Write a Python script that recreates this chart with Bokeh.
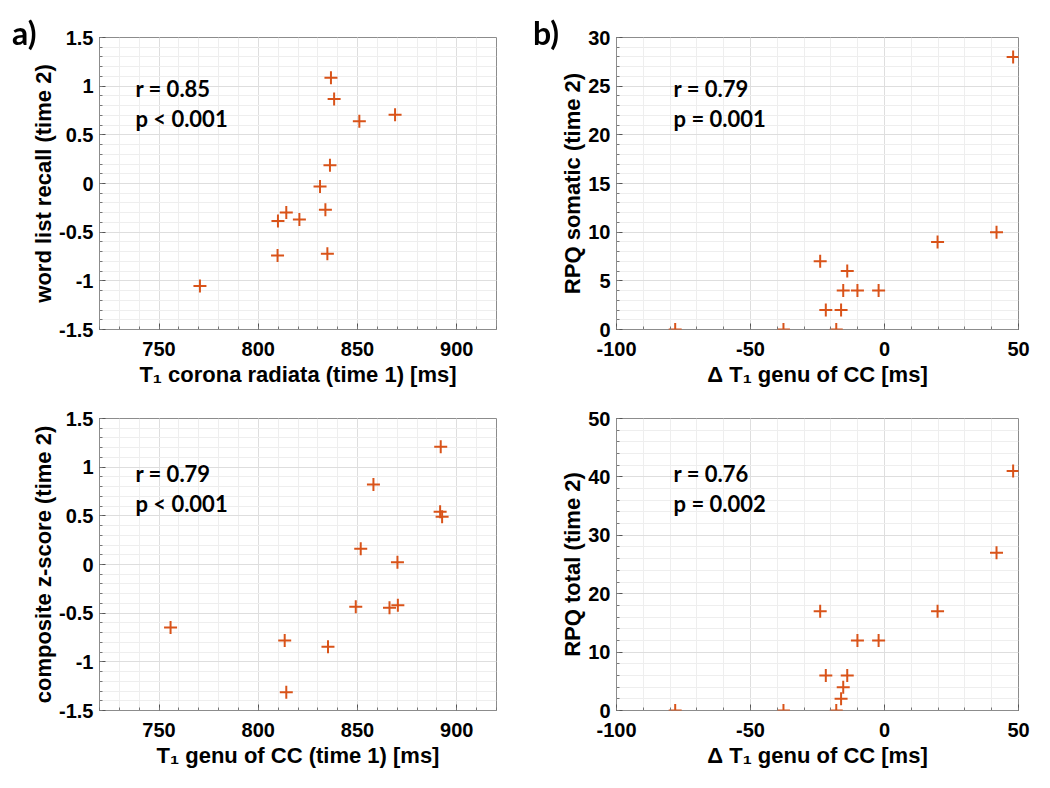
from bokeh.plotting import figure
from bokeh.layouts import gridplot, column
from bokeh.models import FixedTicker, Label, Range1d, Div
from bokeh.embed import file_html
from bokeh.resources import INLINE

# ---------------- data ----------------
t1_corona_time1 = [836.6, 838.2, 850.9, 868.9, 836.1, 831.1, 833.8, 814.1, 809.9, 820.7, 809.7, 834.8, 770.6]
word_list_recall = [1.087, 0.868, 0.639, 0.707, 0.188, -0.031, -0.270, -0.297, -0.386, -0.369, -0.741, -0.721, -1.052]

delta_t1_genu = [48.0, 41.8, 19.8, -24.0, -13.9, -15.4, -10.1, -2.2, -21.9, -16.2, -18.0, -37.7, -78.1]
rpq_somatic = [28, 10, 9, 7, 6, 4, 4, 4, 2, 2, 0, 0, 0]
rpq_total = [41, 27, 17, 17, 6, 4, 12, 12, 6, 2, 0, 0, 0]

t1_genu_time1 = [891.9, 858.0, 891.6, 892.6, 851.6, 870.1, 849.1, 866.1, 870.3, 755.8, 813.3, 835.1, 814.1]
composite_z = [1.209, 0.822, 0.541, 0.490, 0.161, 0.024, -0.435, -0.445, -0.418, -0.647, -0.781, -0.846, -1.312]

# ticks / labels
xt_ms = [750, 800, 850, 900]
xt_ms_labels = ["750", "800", "850", "900"]
xt_delta = [-100, -50, 0, 50]
xt_delta_labels = ["-100", "-50", "0", "50"]
yt_z = [-1.5, -1, -0.5, 0, 0.5, 1, 1.5]
yt_z_labels = ["-1.5", "-1", "-0.5", "0", "0.5", "1", "1.5"]
yt_som = [0, 5, 10, 15, 20, 25, 30]
yt_som_labels = ["0", "5", "10", "15", "20", "25", "30"]
yt_tot = [0, 10, 20, 30, 40, 50]
yt_tot_labels = ["0", "10", "20", "30", "40", "50"]

stats = [("r = 0.85", "p < 0.001"), ("r = 0.79", "p = 0.001"),
         ("r = 0.79", "p < 0.001"), ("r = 0.76", "p = 0.002")]
panel_letters = ["a)", "b)"]

MARK = "#D95319"
AX_FONT = "Liberation Sans"
TXT_FONT = "Lato"


def frange(a, b, step):
    n = int(round((b - a) / step))
    return [round(a + i * step, 6) for i in range(n + 1)]


def make_panel(x, y, xr, yr, xt, xtl, yt, ytl, xminor, yminor, xlabel, ylabel,
               width, height, borders, stat, stat_pos):
    bl, br, bt, bb = borders
    p = figure(width=width, height=height, output_backend="svg", toolbar_location=None,
               x_range=Range1d(*xr), y_range=Range1d(*yr),
               min_border_left=bl, min_border_right=br, min_border_top=bt, min_border_bottom=bb)
    p.background_fill_color = "white"
    p.border_fill_color = "white"
    p.outline_line_color = "#8c8c8c"
    p.outline_line_width = 1

    xtick = FixedTicker(ticks=xt, minor_ticks=xminor)
    ytick = FixedTicker(ticks=yt, minor_ticks=yminor)

    for ax, tk, lab, ovr in ((p.xaxis[0], xtick, xlabel, dict(zip(xt, xtl))),
                             (p.yaxis[0], ytick, ylabel, dict(zip(yt, ytl)))):
        ax.ticker = tk
        ax.major_label_overrides = ovr
        ax.axis_label = lab
        ax.axis_label_text_font = AX_FONT
        ax.axis_label_text_font_style = "bold"
        ax.axis_label_text_font_size = "22px"
        ax.axis_label_text_color = "black"
        ax.major_label_text_font = AX_FONT
        ax.major_label_text_font_style = "bold"
        ax.major_label_text_font_size = "20px"
        ax.major_label_text_color = "black"
        ax.axis_line_color = None
        ax.major_tick_in = 6
        ax.major_tick_out = 0
        ax.minor_tick_in = 3
        ax.minor_tick_out = 0
        ax.major_tick_line_color = "#555555"
        ax.minor_tick_line_color = "#777777"
    p.xaxis[0].major_label_standoff = 12
    p.xaxis[0].axis_label_standoff = 3
    p.yaxis[0].major_label_standoff = 6
    p.yaxis[0].axis_label_standoff = 0

    p.xgrid.grid_line_color = "#dedede"
    p.ygrid.grid_line_color = "#dedede"
    p.xgrid.minor_grid_line_color = "#eeeeee"
    p.ygrid.minor_grid_line_color = "#eeeeee"
    p.xgrid.level = "underlay"
    p.ygrid.level = "underlay"

    p.scatter(x, y, marker="cross", size=13, line_color=MARK, line_width=2)

    (sx, sy1, sy2) = stat_pos
    for txt, yy in ((stat[0], sy1), (stat[1], sy2)):
        p.add_layout(Label(x=sx, y=yy, text=txt, text_font=TXT_FONT, text_font_style="bold",
                           text_font_size="22px", text_color="black", text_baseline="middle"))
    return p


p1 = make_panel(t1_corona_time1, word_list_recall, (720, 920), (-1.5, 1.5),
                xt_ms, xt_ms_labels, yt_z, yt_z_labels,
                frange(720, 920, 10), frange(-1.5, 1.5, 0.1),
                "T\u2081 corona radiata (time 1) [ms]", "word list recall (time 2)",
                525, 394, (99, 29, 37, 65), stats[0], (738.1, 0.976, 0.668))
p2 = make_panel(delta_t1_genu, rpq_somatic, (-100, 50), (0, 30),
                xt_delta, xt_delta_labels, yt_som, yt_som_labels,
                frange(-100, 50, 10), frange(0, 30, 1),
                "\u0394 T\u2081 genu of CC [ms]", "RPQ somatic (time 2)",
                521, 394, (91, 28, 37, 65), stats[1], (-78.7, 24.76, 21.68))
p3 = make_panel(t1_genu_time1, composite_z, (720, 920), (-1.5, 1.5),
                xt_ms, xt_ms_labels, yt_z, yt_z_labels,
                frange(720, 920, 10), frange(-1.5, 1.5, 0.1),
                "T\u2081 genu of CC (time 1) [ms]", "composite z-score (time 2)",
                525, 390, (99, 29, 24, 74), stats[2], (738.1, 0.935, 0.627))
p4 = make_panel(delta_t1_genu, rpq_total, (-100, 50), (0, 50),
                xt_delta, xt_delta_labels, yt_tot, yt_tot_labels,
                frange(-100, 50, 10), frange(0, 50, 2),
                "\u0394 T\u2081 genu of CC [ms]", "RPQ total (time 2)",
                521, 390, (91, 28, 24, 74), stats[3], (-78.7, 40.58, 35.45))

grid = gridplot([[p1, p2], [p3, p4]], toolbar_location=None)

# panel letters as a fixed-position overlay
letter_style = ("position:fixed; z-index:50; font-family:Lato; font-weight:bold; "
                "font-size:32px; line-height:32px; color:black; margin:0; padding:0;")
letters_html = (
    '<span style="%s left:12px; top:17px;">%s</span>' % (letter_style, panel_letters[0])
    + '<span style="%s left:533px; top:17px;">%s</span>' % (letter_style, panel_letters[1])
)
letters = Div(text=letters_html, width=10, height=0, margin=0)

layout = column(grid, letters)

with open("out.html", "w") as f:
    f.write(file_html(layout, INLINE))
